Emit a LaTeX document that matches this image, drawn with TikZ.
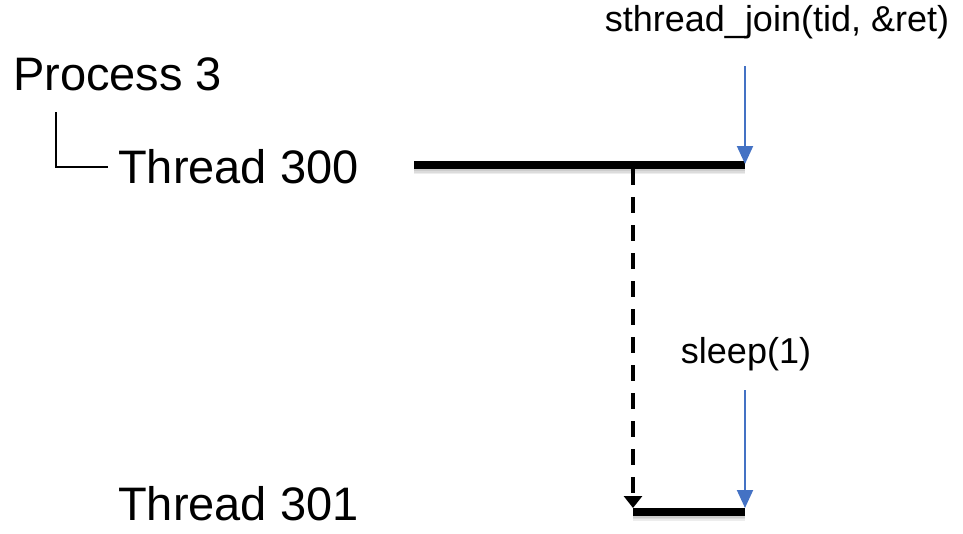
\documentclass[tikz,border=0pt]{standalone}
\usepackage{fontspec}
\setmainfont{Liberation Sans}
\usetikzlibrary{arrows.meta}
\definecolor{callblue}{HTML}{4472C4}
\begin{document}
\begin{tikzpicture}[x=1pt,y=-1pt,
  biglabel/.style={inner sep=0pt,font=\fontsize{47}{56}\selectfont},
  calllabel/.style={inner sep=0pt,font=\fontsize{36}{43}\selectfont},
  timeline/.style={line width=8pt},
  timeshadow/.style={line width=8pt,black,opacity=0.07},
  callarrow/.style={callblue,line width=2pt,-{Triangle[width=16pt,length=18pt]}},
  spawnarrow/.style={line width=4pt,dash pattern=on 16pt off 12pt,-{Triangle[width=18pt,length=12pt]}}]
\useasboundingbox (0,0) rectangle (963,533);

% labels
\node[biglabel,anchor=base west] (p3) at (13,90) {Process 3};
\node[biglabel,anchor=base west] (t300) at (118,183) {Thread 300};
\node[biglabel,anchor=base west] (t301) at (118,520) {Thread 301};
\node[calllabel,anchor=base] (join) at (777,31) {sthread\_join(tid, \&ret)};
\node[calllabel,anchor=base] (sleep) at (746,363) {sleep(1)};

% tree bracket from the process to its thread
\coordinate (brtop) at (56,112);
\coordinate (brend) at (108,167);
\draw[line width=2pt] (brtop) |- (brend);

% timeline points
\coordinate (a0) at (414,165);
\coordinate (a1) at (745,165);
\coordinate (fork) at (633,169);
\coordinate (b0) at (633,511.5);
\coordinate (b1) at (745,511.5);
\coordinate (joinhit) at (745,164);
\coordinate (sleephit) at (745,508);
\coordinate (forkhit) at (633,508);

% thread lifelines with a soft shadow
\foreach \d in {2,3.5,5}{
  \draw[timeshadow] ([yshift=-\d pt]a0) -- ([yshift=-\d pt]a1);
  \draw[timeshadow] ([yshift=-\d pt]b0) -- ([yshift=-\d pt]b1);
}
\draw[timeline] (a0) -- (a1);
\draw[timeline] (b0) -- (b1);

% thread creation
\draw[spawnarrow] (fork) -- (forkhit);

% calls
\draw[callarrow] (745,66) -- (joinhit);
\draw[callarrow] (745,390) -- (sleephit);
\end{tikzpicture}
\end{document}
